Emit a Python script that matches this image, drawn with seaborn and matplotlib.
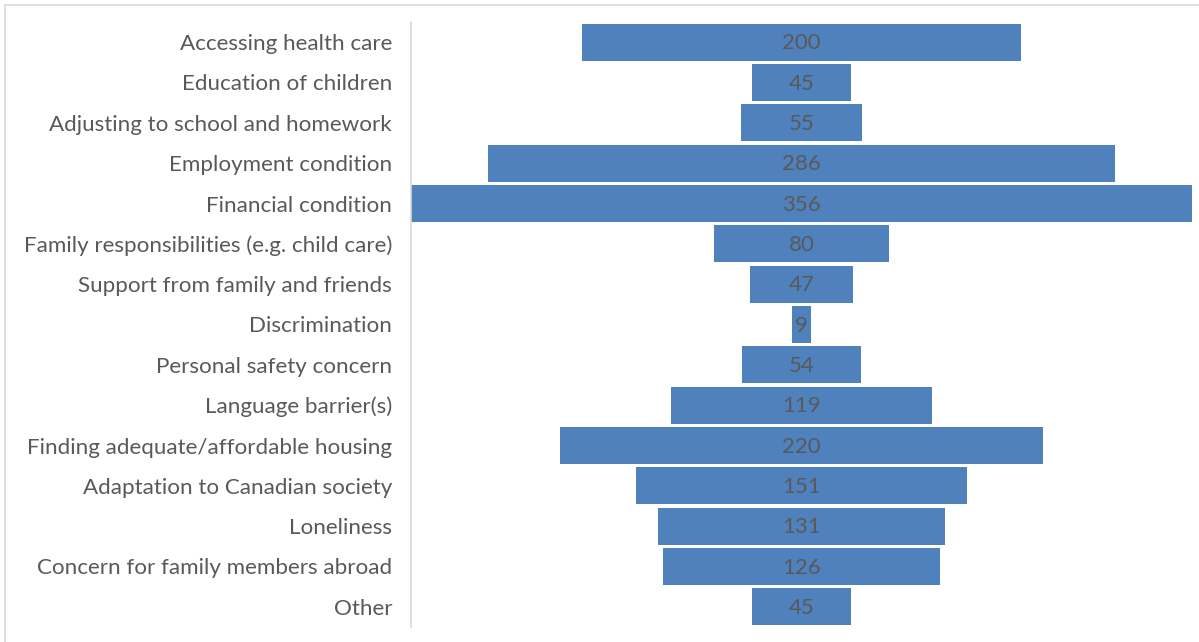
import numpy as np
import pandas as pd
import matplotlib
matplotlib.use("Agg")
import matplotlib.pyplot as plt
import seaborn as sns
from matplotlib.lines import Line2D

categories = [
    "Accessing health care",
    "Education of children",
    "Adjusting to school and homework",
    "Employment condition",
    "Financial condition",
    "Family responsibilities (e.g. child care)",
    "Support from family and friends",
    "Discrimination",
    "Personal safety concern",
    "Language barrier(s)",
    "Finding adequate/affordable housing",
    "Adaptation to Canadian society",
    "Loneliness",
    "Concern for family members abroad",
    "Other",
]
counts = [200, 45, 55, 286, 356, 80, 47, 9, 54, 119, 220, 151, 131, 126, 45]

sns.set_theme(style="white")
plt.rcParams["font.family"] = ["Lato", "DejaVu Sans"]

BAR = "#4F81BD"
TEXT = "#595959"
GRID = "#D9D9D9"

df = pd.DataFrame({"category": categories, "count": counts})
df["half"] = df["count"] / 2.0
df["neg_half"] = -df["count"] / 2.0

fig = plt.figure(figsize=(11.99, 6.42), dpi=100)
ax = fig.add_axes([411 / 1199, 1 - 627 / 642, (1192 - 411) / 1199, (627 - 22) / 642])

# centred bars: each drawn as two halves mirrored around zero
sns.barplot(data=df, x="half", y="category", color=BAR, saturation=1,
            width=0.92, linewidth=0, ax=ax, orient="h")
sns.barplot(data=df, x="neg_half", y="category", color=BAR, saturation=1,
            width=0.92, linewidth=0, ax=ax, orient="h")

half_max = max(counts) / 2.0
ax.set_xlim(-half_max, half_max)
ax.set_ylim(len(categories) - 0.5, -0.5)

for i, v in enumerate(counts):
    ax.text(0, i + 0.03, f"{v}", ha="center", va="center", color=TEXT, fontsize=16)

ax.set_xlabel("")
ax.set_ylabel("")
ax.set_xticks([])
ax.tick_params(axis="y", length=0, pad=13.5, labelsize=16.1, labelcolor=TEXT)
for s in ("top", "right", "bottom"):
    ax.spines[s].set_visible(False)
ax.spines["left"].set_color(GRID)
ax.spines["left"].set_linewidth(1.2)

# outer chart frame
fig.add_artist(Line2D([5 / 1199, 1.0], [1 - 5 / 642, 1 - 5 / 642],
                      transform=fig.transFigure, color=GRID, lw=1.2))
fig.add_artist(Line2D([5 / 1199, 5 / 1199], [0.0, 1 - 5 / 642],
                      transform=fig.transFigure, color=GRID, lw=1.2))

fig.savefig("out.png", dpi=100)
